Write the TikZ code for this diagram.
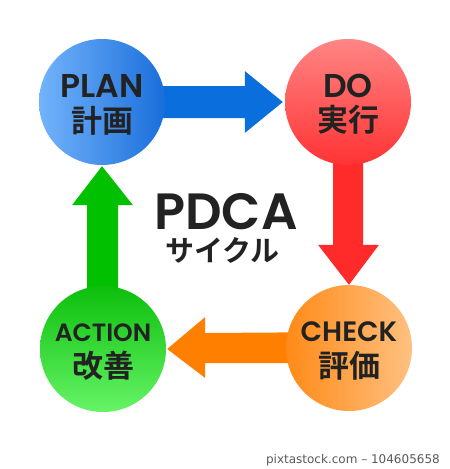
\documentclass[tikz,border=0pt]{standalone}
\usepackage{fontspec}
\usetikzlibrary{calc,backgrounds}
\newfontfamily\latf{Poppins}[UprightFont={* SemiBold}, BoldFont={* SemiBold}]
\newfontfamily\jpf{Noto Sans CJK JP}[BoldFont={* Bold}]
\newfontfamily\wmf{DejaVu Sans}
\definecolor{txt}{HTML}{222222}
\definecolor{blueA}{HTML}{0A6FDC}
\definecolor{blueL}{HTML}{72B3FB}
\definecolor{blueD}{HTML}{1A6EDB}
\definecolor{redA}{HTML}{FF2B2B}
\definecolor{redL}{HTML}{FF8585}
\definecolor{redD}{HTML}{FF3333}
\definecolor{orangeA}{HTML}{FF8000}
\definecolor{orangeL}{HTML}{FFC080}
\definecolor{orangeD}{HTML}{FF8A18}
\definecolor{greenA}{HTML}{00C000}
\definecolor{greenL}{HTML}{66F466}
\definecolor{greenD}{HTML}{0CBF0C}
\tikzset{
  disc/.style={circle, inner sep=0pt, minimum size=126pt},
  en/.style={text=txt, inner sep=0pt, text height=\dimexpr #1pt*7/10\relax, text depth=0pt, font=\latf\bfseries\fontsize{#1}{#1}\selectfont},
  jp/.style={text=txt, inner sep=0pt, text height=\dimexpr #1pt*8/10\relax, text depth=\dimexpr #1pt*6/100\relax, font=\jpf\bfseries\fontsize{#1}{#1}\selectfont},
}
\begin{document}
\begin{tikzpicture}[x=1pt,y=-1pt]
\useasboundingbox (0,0) rectangle (450,469);
% circles
\node[disc, left color=blueL, right color=blueD] (plan) at (102,102) {};
\node[disc, top color=redL, bottom color=redD] (do) at (348,102) {};
\node[disc, left color=orangeD, right color=orangeL] (check) at (349,348) {};
\node[disc, top color=greenD, bottom color=greenL] (action) at (103,349) {};
% arrows (behind circles)
\begin{scope}[on background layer]
\fill[blueA] ($(plan.center)+(0,-16)$) -- ($(do.west)+(-40,-16)$) -- ($(do.west)+(-40,-31)$) -- ($(do.west)+(-2,0)$) -- ($(do.west)+(-40,31)$) -- ($(do.west)+(-40,16)$) -- ($(plan.center)+(0,16)$) -- cycle;
\fill[redA] ($(do.center)+(-15,0)$) -- ($(check.north)+(-16,-40)$) -- ($(check.north)+(-31,-40)$) -- ($(check.north)+(0,0)$) -- ($(check.north)+(30,-40)$) -- ($(check.north)+(14,-40)$) -- ($(do.center)+(15,0)$) -- cycle;
\fill[orangeA] ($(check.center)+(0,-16)$) -- ($(action.east)+(39,-16)$) -- ($(action.east)+(39,-32)$) -- ($(action.east)+(1,0)$) -- ($(action.east)+(39,29)$) -- ($(action.east)+(39,14)$) -- ($(check.center)+(0,15)$) -- cycle;
\fill[greenA] ($(action.center)+(-16,0)$) -- ($(plan.south)+(-15,40)$) -- ($(plan.south)+(-30,40)$) -- ($(plan.south)+(0,1)$) -- ($(plan.south)+(31,40)$) -- ($(plan.south)+(16,40)$) -- ($(action.center)+(15,0)$) -- cycle;
\end{scope}
% labels
\node[en=33] (planE) at ($(plan)+(0,-16.5)$) {PLAN};
\node[jp=31] (planJ) at ($(plan)+(0,19)$) {計画};
\node[en=33] (doE) at ($(do)+(0,-16.5)$) {DO};
\node[jp=31] (doJ) at ($(do)+(0,18.5)$) {実行};
\node[en=28] (checkE) at ($(check)+(0,-16)$) {CHECK};
\node[jp=31] (checkJ) at ($(check)+(0,18.5)$) {評価};
\node[en=25] (actionE) at ($(action)+(0,-16.5)$) {ACTION};
\node[jp=31] (actionJ) at ($(action)+(0,17.5)$) {改善};
\node[en=51] (pdca) at (226,211.5) {PDCA};
\node[jp=29] (cycle) at (222.5,250.5) {サイクル};
\node[text=black!65, inner sep=0pt, anchor=east, font=\wmf\fontsize{12}{12}\selectfont] (wm) at (440,460) {pixtastock.com – 104605658};
\end{tikzpicture}
\end{document}
